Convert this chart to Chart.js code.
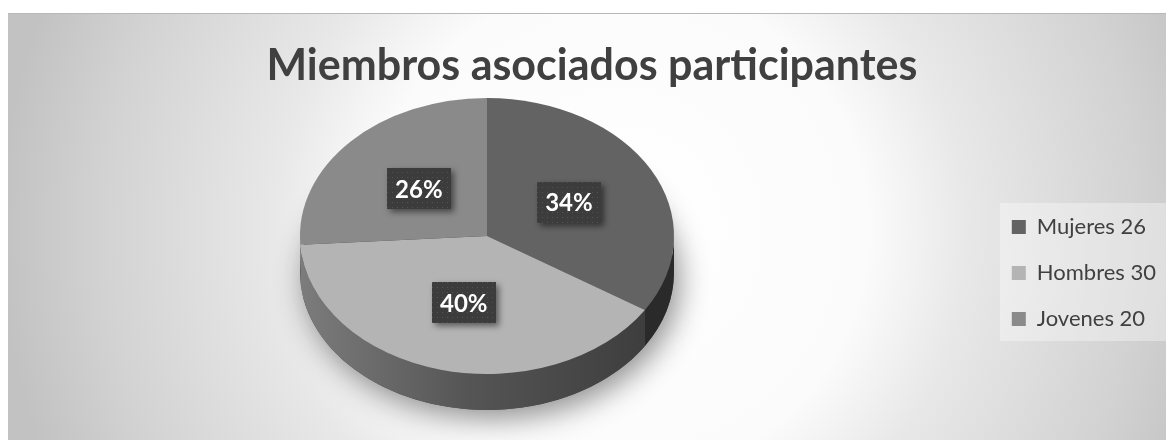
<!DOCTYPE html>
<html>
<head>
<meta charset="utf-8">
<script src="https://cdn.jsdelivr.net/npm/chart.js@4.4.1/dist/chart.umd.min.js"></script>
<style>
  html, body { margin: 0; padding: 0; background: #fff; }
</style>
</head>
<body>
<canvas id="miembros" width="1166" height="440"></canvas>
<script>
// data
const categories = ["Mujeres 26", "Hombres 30", "Jovenes 20"];
const shares = [34, 40, 26];
const chartTitle = "Miembros asociados participantes";

const sliceColors = ["#636363", "#b4b4b4", "#8a8a8a"];
const sideColors = ["#2a2a2a", null, "#5e5e5e"]; // null -> gradient
const textColor = "#404040";

// where the tilted pie sits on the page
const PIE = { x: 487, y: 236, rx: 187, ry: 138, depth: 36 };

// fit the title width to the original
const measure = document.createElement("canvas").getContext("2d");
measure.font = "bold 40px Lato";
const titleSize = Math.round(40 * 649 / measure.measureText(chartTitle).width);

function faceGeometry(chart) {
    const arc = chart.getDatasetMeta(0).data[0];
    return { cx: arc.x, cy: arc.y, r: arc.outerRadius };
}

function toPage(chart, p) {
    const g = faceGeometry(chart);
    return {
        x: PIE.x + (p.x - g.cx) * PIE.rx / g.r,
        y: PIE.y + (p.y - g.cy) * PIE.ry / g.r,
    };
}

function dotPattern(ctx) {
    const c = document.createElement("canvas");
    c.width = 5;
    c.height = 5;
    const p = c.getContext("2d");
    p.fillStyle = "#3c3c3c";
    p.fillRect(0, 0, 5, 5);
    p.fillStyle = "#525252";
    p.fillRect(2, 2, 1, 1);
    return ctx.createPattern(c, "repeat");
}

const pie3d = {
    id: "pie3d",
    beforeDraw(chart) {
        const ctx = chart.ctx;
        ctx.save();
        ctx.fillStyle = "#ffffff";
        ctx.fillRect(0, 0, chart.width, chart.height);
        const bg = ctx.createRadialGradient(620, 230, 0, 620, 230, 620);
        bg.addColorStop(0, "#ffffff");
        bg.addColorStop(0.4, "#fbfbfb");
        bg.addColorStop(0.56, "#e8e8e8");
        bg.addColorStop(0.84, "#d2d2d2");
        bg.addColorStop(1, "#c2c2c2");
        ctx.fillStyle = bg;
        ctx.fillRect(8, 13, chart.width - 8, chart.height - 13);
        ctx.fillStyle = "#b8b8b8";
        ctx.fillRect(8, 13, chart.width - 8, 1);

        // light panel behind the legend
        const hb = chart.legend.legendHitBoxes;
        if (hb && hb.length) {
            const left = Math.min(...hb.map((b) => b.left)) - 12;
            const top = hb[0].top - 13;
            const last = hb[hb.length - 1];
            const bottom = last.top + last.height + 11;
            ctx.fillStyle = "rgba(255,255,255,0.35)";
            ctx.fillRect(left, top, chart.width - left, bottom - top);
        }
        ctx.restore();
    },
    beforeDatasetsDraw(chart) {
        const ctx = chart.ctx;
        const meta = chart.getDatasetMeta(0);
        const { x, y, rx, ry, depth } = PIE;

        // soft shadow under the disc
        ctx.save();
        ctx.shadowColor = "rgba(0,0,0,0.45)";
        ctx.shadowBlur = 30;
        ctx.shadowOffsetX = 5;
        ctx.shadowOffsetY = 8;
        ctx.beginPath();
        ctx.ellipse(x, y + depth, rx, ry, 0, 0, Math.PI * 2);
        ctx.fillStyle = "#444";
        ctx.fill();
        ctx.restore();

        // visible side wall of each slice
        const grad = ctx.createLinearGradient(x - rx, 0, x + rx, 0);
        grad.addColorStop(0, "#7c7c7c");
        grad.addColorStop(0.45, "#555555");
        grad.addColorStop(1, "#3a3a3a");
        meta.data.forEach((arc, i) => {
            const a1 = Math.max(arc.startAngle, 0);
            const a2 = Math.min(arc.endAngle, Math.PI);
            if (a2 <= a1) return;
            ctx.save();
            ctx.beginPath();
            ctx.ellipse(x, y, rx, ry, 0, a1, a2);
            ctx.ellipse(x, y + depth, rx, ry, 0, a2, a1, true);
            ctx.closePath();
            ctx.fillStyle = sideColors[i] || grad;
            ctx.fill();
            ctx.restore();
        });

        // squash the top face into the ellipse
        const g = faceGeometry(chart);
        ctx.save();
        ctx.translate(x, y);
        ctx.scale(rx / g.r, ry / g.r);
        ctx.translate(-g.cx, -g.cy);
    },
    afterDatasetsDraw(chart) {
        const ctx = chart.ctx;
        ctx.restore();

        const meta = chart.getDatasetMeta(0);
        const pattern = dotPattern(ctx);
        meta.data.forEach((arc, i) => {
            const p = toPage(chart, arc.tooltipPosition());
            const w = 64, h = 41;
            ctx.save();
            ctx.shadowColor = "rgba(0,0,0,0.5)";
            ctx.shadowBlur = 6;
            ctx.shadowOffsetX = 3;
            ctx.shadowOffsetY = 3;
            ctx.fillStyle = pattern;
            ctx.fillRect(Math.round(p.x - w / 2), Math.round(p.y - h / 2), w, h);
            ctx.restore();
            ctx.save();
            ctx.fillStyle = "#ffffff";
            ctx.font = "bold 24px Lato";
            ctx.textAlign = "center";
            ctx.textBaseline = "middle";
            ctx.fillText(shares[i] + "%", p.x, p.y + 1);
            ctx.restore();
        });
    },
};

const ctx = document.getElementById("miembros").getContext("2d");
new Chart(ctx, {
    type: "pie",
    data: {
        labels: categories,
        datasets: [
            {
                data: shares,
                backgroundColor: sliceColors,
                borderWidth: 0,
                clip: false,
            },
        ],
    },
    options: {
        responsive: false,
        animation: false,
        events: [],
        layout: { padding: { left: 18, right: 0, top: 0, bottom: 0 } },
        plugins: {
            title: {
                display: true,
                text: chartTitle,
                color: textColor,
                font: { family: "Lato", weight: "bold", size: titleSize },
                padding: { top: 40, bottom: 10 },
            },
            legend: {
                position: "right",
                title: {
                    display: true,
                    text: "",
                    font: { family: "Lato", size: 20 },
                    padding: { top: 82, bottom: 0 },
                },
                labels: {
                    color: textColor,
                    font: { family: "Lato", size: 22 },
                    boxWidth: 14,
                    boxHeight: 14,
                    padding: 24,
                },
            },
            tooltip: { enabled: false },
        },
    },
    plugins: [pie3d],
});
</script>
</body>
</html>
